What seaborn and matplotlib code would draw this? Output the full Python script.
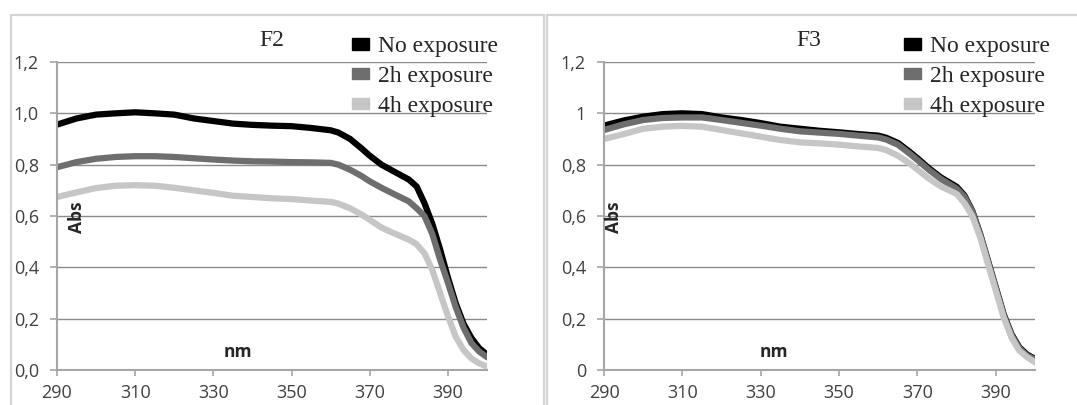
import numpy as np
import pandas as pd
import seaborn as sns
import matplotlib.pyplot as plt
from matplotlib.patches import Patch, Rectangle

# wavelengths (nm), shared by all curves
wavelength = [290, 295, 300, 305, 310, 315, 320, 325, 330, 335, 340, 345, 350, 355, 360,
              362, 365, 368, 370, 373, 376, 380, 382, 384, 386, 388, 390, 392, 394, 396, 398, 400]

# F2 absorbance
f2_none = [0.956, 0.98, 0.995, 1.0, 1.004, 1.0, 0.995, 0.98, 0.97, 0.96, 0.955, 0.952, 0.95, 0.943, 0.934,
           0.925, 0.90, 0.862, 0.835, 0.80, 0.775, 0.742, 0.715, 0.65, 0.57, 0.47, 0.36, 0.26, 0.18, 0.125, 0.085, 0.06]
f2_2h = [0.79, 0.81, 0.823, 0.83, 0.833, 0.833, 0.83, 0.825, 0.82, 0.816, 0.813, 0.812, 0.81, 0.809, 0.807,
         0.80, 0.78, 0.755, 0.735, 0.71, 0.687, 0.657, 0.63, 0.60, 0.53, 0.43, 0.34, 0.245, 0.165, 0.105, 0.072, 0.05]
f2_4h = [0.674, 0.692, 0.709, 0.718, 0.72, 0.718, 0.71, 0.70, 0.69, 0.679, 0.674, 0.669, 0.666, 0.66, 0.655,
         0.648, 0.63, 0.605, 0.585, 0.555, 0.534, 0.508, 0.49, 0.455, 0.39, 0.30, 0.21, 0.13, 0.078, 0.045, 0.026, 0.013]

# F3 absorbance
f3_none = [0.952, 0.972, 0.987, 0.997, 1.0, 0.997, 0.984, 0.974, 0.962, 0.948, 0.94, 0.932, 0.926, 0.919, 0.913,
           0.905, 0.885, 0.85, 0.825, 0.785, 0.75, 0.714, 0.68, 0.62, 0.53, 0.426, 0.322, 0.218, 0.14, 0.088, 0.06, 0.043]
f3_2h = [0.935, 0.957, 0.974, 0.982, 0.984, 0.984, 0.974, 0.963, 0.952, 0.94, 0.93, 0.925, 0.92, 0.913, 0.906,
         0.898, 0.878, 0.843, 0.818, 0.779, 0.744, 0.707, 0.675, 0.617, 0.528, 0.423, 0.318, 0.214, 0.136, 0.084, 0.056, 0.04]
f3_4h = [0.90, 0.919, 0.94, 0.948, 0.951, 0.948, 0.935, 0.922, 0.909, 0.896, 0.887, 0.883, 0.878, 0.871, 0.865,
         0.857, 0.835, 0.805, 0.781, 0.745, 0.715, 0.686, 0.65, 0.60, 0.517, 0.413, 0.309, 0.205, 0.127, 0.075, 0.05, 0.03]

series = ["No exposure", "2h exposure", "4h exposure"]
colors = ["#000000", "#6e6e6e", "#c6c6c6"]
xticks = [290, 310, 330, 350, 370, 390]
yticks = [0, 0.2, 0.4, 0.6, 0.8, 1.0, 1.2]
ylabels_f2 = ["0,0", "0,2", "0,4", "0,6", "0,8", "1,0", "1,2"]
ylabels_f3 = ["0", "0,2", "0,4", "0,6", "0,8", "1", "1,2"]


def long_df(curves):
    frames = []
    for name, vals in zip(series, curves):
        frames.append(pd.DataFrame({"nm": wavelength, "Abs": vals, "series": name}))
    return pd.concat(frames, ignore_index=True)


sns.set_style("white")
plt.rcParams["font.family"] = ["Open Sans", "DejaVu Sans"]

W, H = 1077, 405
fig = plt.figure(figsize=(W / 100, H / 100), dpi=100)

# light gray panel frames
fig.add_artist(Rectangle((10.5 / W, -0.1), 533 / W, 1.1 - 14.5 / H, transform=fig.transFigure,
                         fill=False, edgecolor="#d4d4d4", linewidth=1.6))
fig.add_artist(Rectangle((547 / W, -0.1), 600 / W, 1.1 - 14.5 / H, transform=fig.transFigure,
                         fill=False, edgecolor="#d4d4d4", linewidth=1.6))

panels = [
    dict(title="F2", curves=[f2_none, f2_2h, f2_4h], ylabels=ylabels_f2, left=57, right=487,
         title_x=272, leg_x=352, nm_x=0.421, abs_x=0.047),
    dict(title="F3", curves=[f3_none, f3_2h, f3_4h], ylabels=ylabels_f3, left=604, right=1035,
         title_x=809, leg_x=904, nm_x=0.394, abs_x=0.023),
]

for p in panels:
    ax = fig.add_axes([p["left"] / W, 1 - 370 / H, (p["right"] - p["left"]) / W, (370 - 62) / H])
    df = long_df(p["curves"])
    sns.lineplot(data=df, x="nm", y="Abs", hue="series", palette=colors, linewidth=4.5,
                 legend=False, ax=ax)
    ax.set_xlim(290, 400)
    ax.set_ylim(0, 1.2)
    ax.set_xticks(xticks)
    ax.set_yticks(yticks)
    ax.set_yticklabels(p["ylabels"])
    ax.set_xlabel("")
    ax.set_ylabel("")
    ax.yaxis.grid(True, color="#8a8a8a", linewidth=1.0)
    ax.set_axisbelow(True)
    for s in ["top", "right"]:
        ax.spines[s].set_visible(False)
    for s in ["left", "bottom"]:
        ax.spines[s].set_color("#a6a6a6")
        ax.spines[s].set_linewidth(1.5)
    ax.tick_params(axis="y", direction="out", length=5, width=1.2, color="#a6a6a6",
                   labelsize=13, labelcolor="#404040", pad=8, left=True)
    ax.tick_params(axis="x", direction="out", length=4, width=1.2, color="#a6a6a6",
                   labelsize=13, labelcolor="#404040", pad=6, bottom=True)

    ax.text(p["nm_x"], 0.058, "nm", transform=ax.transAxes, ha="center", va="center",
            fontsize=12.5, fontweight="bold")
    ax.text(p["abs_x"], 0.497, "Abs", transform=ax.transAxes, ha="center", va="center",
            fontsize=12.5, fontweight="bold", rotation=90)

    fig.text(p["title_x"] / W, 1 - 40 / H, p["title"], ha="center", va="center",
             fontsize=17, family="Liberation Serif")

    handles = [Patch(facecolor=c, edgecolor=c) for c in colors]
    ax.legend(handles, series, loc="upper left", bbox_to_anchor=(p["leg_x"] / W, 1 - 36 / H),
              bbox_transform=fig.transFigure, frameon=False, borderpad=0, borderaxespad=0,
              handlelength=0.72, handleheight=0.4, handletextpad=0.4, labelspacing=0.38,
              prop={"family": "Liberation Serif", "size": 17})

fig.savefig("out.png", dpi=100)
